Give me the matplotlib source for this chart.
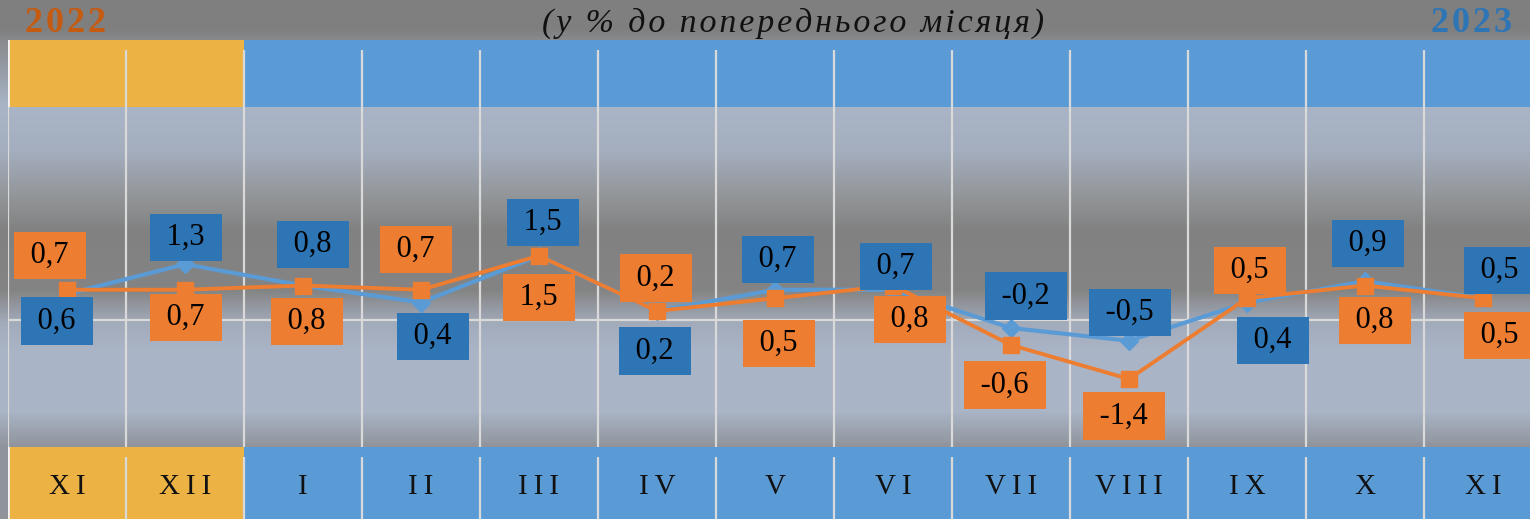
import numpy as np
import matplotlib
matplotlib.use("Agg")
import matplotlib.pyplot as plt
from matplotlib.colors import to_rgb

# Data
months = ["XI", "XII", "I", "II", "III", "IV", "V", "VI", "VII", "VIII", "IX", "X", "XI"]
years = [2022, 2022, 2023, 2023, 2023, 2023, 2023, 2023, 2023, 2023, 2023, 2023, 2023]
blue_vals = [0.6, 1.3, 0.8, 0.4, 1.5, 0.2, 0.7, 0.7, -0.2, -0.5, 0.4, 0.9, 0.5]
orange_vals = [0.7, 0.7, 0.8, 0.7, 1.5, 0.2, 0.5, 0.8, -0.6, -1.4, 0.5, 0.8, 0.5]

# label offsets from each point, in pixels (dx right, dy down)
blue_off = [(-10, 27), (1, -27), (10, -41), (12, 34), (4, -33), (-2, 40), (3, -30),
            (3, -23), (15, -32), (1, -28), (26, 38), (3, -38), (17, -28)]
orange_off = [(-17, -34), (1, 28), (4, 36), (-5, -40), (0, 42), (-1, -33), (4, 45),
              (17, 34), (-6, 40), (-5, 37), (3, -28), (10, 35), (17, 37)]

BLUE_LINE = "#5B9BD5"
BLUE_BOX = "#2E75B6"
ORANGE = "#ED7D31"
BAND = {2022: "#ECB244", 2023: "#5B9BD5"}
GRID = "#D9D9D9"
SERIF = ["Liberation Serif", "DejaVu Serif"]
THIN = "\u2009"
HAIR = "\u200a"

W, H = 1530, 519
fig = plt.figure(figsize=(W / 100, H / 100), dpi=100)

# background vertical gradient
stops_y = [0, 30, 40, 107, 150, 195, 230, 290, 322, 350, 410, 447, 519]
stops_c = ["#7f7f7f", "#808080", "#888a8e", "#a9b5c7", "#a4aebe", "#939699",
           "#818181", "#848484", "#a2abba", "#a9b4c6", "#aab5c7", "#8f939a", "#8f939a"]
rows = np.arange(H)
rgb = np.array([to_rgb(c) for c in stops_c])
grad = np.stack([np.interp(rows, stops_y, rgb[:, k]) for k in range(3)], axis=-1)
bg = fig.add_axes([0, 0, 1, 1], zorder=-5)
bg.imshow(grad[:, None, :], aspect="auto", extent=[0, 1, 0, 1])
bg.axis("off")

x = np.arange(len(months))
left = 8 / W
width = 118 * len(months) / W

# main plot
ax = fig.add_axes([left, 72 / H, width, 340 / H])
ax.set_xlim(-0.5, len(months) - 0.5)
ax.set_ylim(-3, 5)
ax.patch.set_alpha(0)
for s in ax.spines.values():
    s.set_visible(False)
ax.set_xticks(np.arange(len(months) + 1) - 0.5)
ax.set_yticks([0])
ax.grid(True, color=GRID, lw=1.6)
ax.tick_params(length=0, labelbottom=False, labelleft=False)

ax.plot(x, blue_vals, color=BLUE_LINE, lw=3, marker="D", ms=9, zorder=3)
ax.plot(x, orange_vals, color=ORANGE, lw=2.8, marker="s", ms=11, zorder=4)


def fmt(v):
    return " " + f"{v:.1f}".replace(".", ",") + " "


for vals, offs, fc in ((blue_vals, blue_off, BLUE_BOX), (orange_vals, orange_off, ORANGE)):
    for xi, v, (dx, dy) in zip(x, vals, offs):
        ax.annotate(fmt(v), (xi, v), xytext=(dx, -dy), textcoords="offset pixels",
                    ha="center", va="center", fontsize=22, family=SERIF, color="black",
                    bbox=dict(boxstyle="square,pad=0.3", fc=fc, ec="none"), zorder=5)

# top and bottom bands
band_colors = [BAND[y] for y in years]
top = fig.add_axes([left, (H - 107) / H, width, 67 / H])
bot = fig.add_axes([left, 0, width, 72 / H])
for b, gap in ((top, 0.85), (bot, 0.86)):
    b.bar(x, 1, width=1, color=band_colors, align="center")
    b.set_xlim(-0.5, len(months) - 0.5)
    b.set_ylim(0, 1)
    b.vlines(np.arange(1, len(months)) - 0.5, 0, gap, color=GRID, lw=1.6)
    b.axvline(-0.5, color="#f2f2f2", lw=2)
    b.axis("off")

for xi, m in zip(x, months):
    bot.text(xi, 0.45, THIN.join(m), ha="center", va="center",
             fontsize=21, family=SERIF, color="#111111")

title = "(у % до попереднього місяця)"
fig.text(793 / W, 1 - 23 / H, HAIR.join(title), ha="center", va="center",
         fontsize=24.5, style="italic", family=SERIF, color="#111111")
fig.text(25 / W, 1 - 24 / H, HAIR.join("2022"), ha="left", va="center", fontsize=26,
         weight="bold", family=SERIF, color="#C55A11")
fig.text(1512 / W, 1 - 24 / H, HAIR.join("2023"), ha="right", va="center", fontsize=26,
         weight="bold", family=SERIF, color=BLUE_BOX)

fig.savefig("out.png", dpi=100)
